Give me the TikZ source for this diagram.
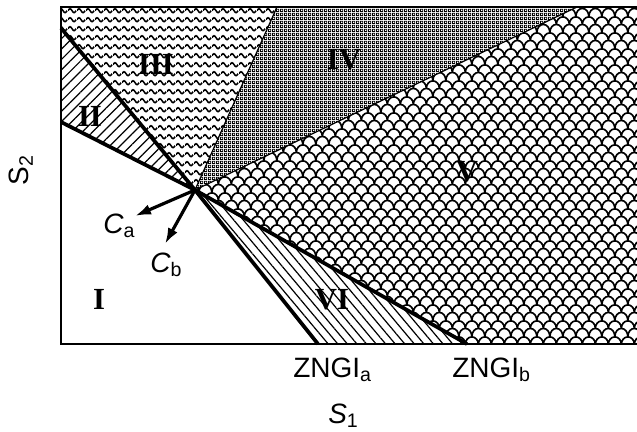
\documentclass[tikz,border=0pt]{standalone}
\usepackage{fontspec}
\setmainfont{Liberation Sans}
\newfontfamily\numfont{Liberation Serif}
\usetikzlibrary{patterns,patterns.meta,arrows.meta}

\pgfdeclarepatternformonly{wavy}{\pgfpointorigin}{\pgfpoint{6.4pt}{6.6pt}}{\pgfpoint{6.4pt}{6.6pt}}{%
  \pgfsetlinewidth{1.2pt}
  \pgfpathmoveto{\pgfpoint{0pt}{3.3pt}}
  \pgfpathsine{\pgfpoint{1.6pt}{1.5pt}}
  \pgfpathcosine{\pgfpoint{1.6pt}{-1.5pt}}
  \pgfpathsine{\pgfpoint{1.6pt}{-1.5pt}}
  \pgfpathcosine{\pgfpoint{1.6pt}{1.5pt}}
  \pgfusepath{stroke}}
\pgfdeclarepatternformonly{scales}{\pgfpointorigin}{\pgfpoint{10pt}{12pt}}{\pgfpoint{10pt}{12pt}}{%
  \pgfsetlinewidth{1.3pt}
  \pgfpathmoveto{\pgfpoint{0pt}{0pt}}
  \pgfpatharc{180}{0}{5pt and 6pt}
  \pgfpathmoveto{\pgfpoint{-5pt}{6pt}}
  \pgfpatharc{180}{0}{5pt and 6pt}
  \pgfpathmoveto{\pgfpoint{5pt}{6pt}}
  \pgfpatharc{180}{0}{5pt and 6pt}
  \pgfusepath{stroke}}
\pgfdeclarepatternformonly{checker}{\pgfpointorigin}{\pgfpoint{3pt}{3pt}}{\pgfpoint{3pt}{3pt}}{%
  \pgfseteorule
  \pgfpathrectangle{\pgfpointorigin}{\pgfpoint{3pt}{3pt}}
  \pgfpathrectangle{\pgfpoint{0.8pt}{0.8pt}}{\pgfpoint{1.4pt}{1.4pt}}
  \pgfusepath{fill}}

\begin{document}
\begin{tikzpicture}[x=0.75pt,y=-0.75pt,
  numeral/.style={font=\numfont\bfseries\fontsize{23}{26}\selectfont,inner sep=0pt},
  axislabel/.style={font=\fontsize{21}{24}\selectfont,inner sep=0pt},
  zngi/.style={line width=2.8pt},
  sep/.style={line width=0.9pt},
  vec/.style={line width=2.4pt,-{Latex[length=12pt,width=8pt]}}]
  \useasboundingbox (0,0) rectangle (637,432);

  \coordinate (O) at (195,190);
  \coordinate (A1) at (61,28);
  \coordinate (A2) at (318,344);
  \coordinate (B1) at (61,122);
  \coordinate (B2) at (467,344);
  \coordinate (T3) at (277,7);
  \coordinate (T4) at (577,7);

  % regions
  \fill[pattern={Lines[angle=45,distance=5.5pt,line width=0.9pt]}] (A1) -- (O) -- (B1) -- cycle;
  \fill[pattern=wavy] (61,7) -- (A1) -- (O) -- (T3) -- cycle;
  \fill[pattern=checker] (T3) -- (O) -- (T4) -- cycle;
  \fill[pattern=scales] (T4) -- (O) -- (B2) -- (645,344) -- (645,7) -- cycle;
  \fill[pattern={Lines[angle=-50,distance=5.5pt,line width=0.9pt]}] (O) -- (A2) -- (B2) -- cycle;

  \draw[sep] (O) -- (T3);
  \draw[sep] (O) -- (T4);
  \draw[zngi] (A1) -- (O) -- (A2);
  \draw[zngi] (B1) -- (O) -- (B2);
  \draw[line width=1.6pt] (645,7) -- (61,7) -- (61,344) -- (645,344);

  \coordinate (Ca) at (135,216);
  \coordinate (Cb) at (165,244);
  \draw[vec] (O) -- (Ca);
  \draw[vec] (O) -- (Cb);
  \node[axislabel,anchor=base west] (ca) at (103,233) {\textit{C}\textsubscript{a}};
  \node[axislabel,anchor=base west] (cb) at (150,272) {\textit{C}\textsubscript{b}};

  \node[numeral] (r1) at (99,299) {I};
  \node[numeral] (r2) at (90,116) {II};
  \node[numeral] (r3) at (156,64) {III};
  \node[numeral] (r4) at (344,60) {IV};
  \node[numeral] (r5) at (467,172) {V};
  \node[numeral] (r6) at (332,300) {VI};

  \node[axislabel,anchor=base west] (za) at (293,377) {ZNGI\textsubscript{a}};
  \node[axislabel,anchor=base west] (zb) at (452,377) {ZNGI\textsubscript{b}};
  \node[axislabel,anchor=base west] (s1) at (328,423) {\textit{S}\textsubscript{1}};
  \node[axislabel,rotate=90] (s2) at (21,170) {S\textsubscript{2}};
\end{tikzpicture}
\end{document}
